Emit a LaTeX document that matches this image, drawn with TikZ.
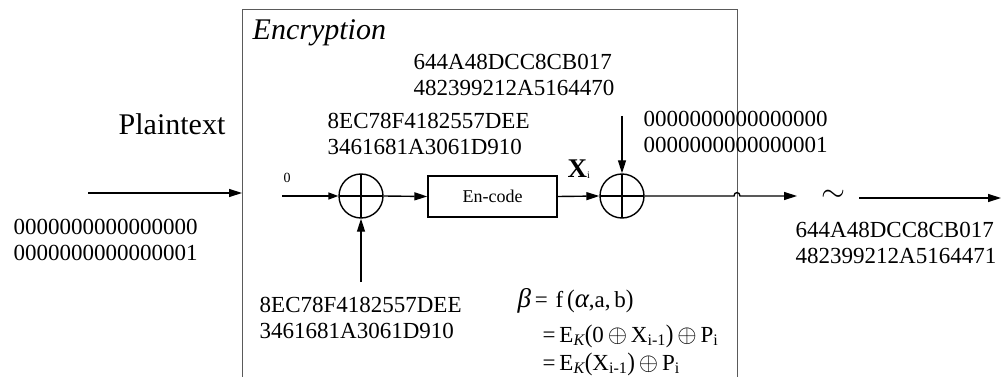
\documentclass[tikz,border=0pt]{standalone}
\usepackage{fontspec}
\setmainfont{Liberation Serif}
\usetikzlibrary{arrows.meta}
\definecolor{boxgray}{RGB}{90,90,90}
\newcommand{\bigpar}[1]{\raisebox{-0.5pt}{\scalebox{1}[1.1]{#1}}}
\begin{document}
\begin{tikzpicture}[x=1pt,y=-1pt,line width=1.4pt,
  conn/.style={-{Triangle[length=13pt,width=8pt]}},
  smallconn/.style={-{Triangle[length=10pt,width=7pt]}},
  xorc/.style={circle,draw,minimum size=44pt,inner sep=0pt,
    path picture={\draw (path picture bounding box.north) -- (path picture bounding box.south)
                        (path picture bounding box.west) -- (path picture bounding box.east);}},
  encbox/.style={draw,minimum width=129pt,minimum height=41pt,inner sep=0pt,
    font=\fontsize{18}{18}\selectfont},
  hex/.style={font=\fontsize{23}{26}\selectfont,align=left,inner sep=0pt,anchor=west},
  big/.style={font=\fontsize{30}{30}\selectfont,inner sep=0pt},
  frm/.style={font=\fontsize{23}{28}\selectfont,inner sep=0pt,anchor=base west}]
\useasboundingbox (0,0) rectangle (1002,377);
% frame of the encryption block
\draw[boxgray,line width=1pt] (242,377) -- (242,10) -- (737,10) -- (737,377);
% nodes
\node[xorc] (c1) at (361,196) {};
\node[xorc] (c2) at (622,196) {};
\node[encbox] (enc) at (492.5,196.5) {En-code};
% coordinates for free ends
\coordinate (inS) at (88,193);
\coordinate (inE) at (242,193);
\coordinate (zS) at (282,196);
\coordinate (bS) at (361,282);
\coordinate (tS) at (622,116);
\coordinate (hopA) at (734,196);
\coordinate (hopB) at (740,196);
\coordinate (oE) at (797,196);
\coordinate (fS) at (859,198);
\coordinate (fE) at (1001,198);
% connectors
\draw[conn] (inS) -- (inE);
\draw[smallconn] (zS) -- (c1.west);
\draw[conn] (c1.east) -- (enc.west);
\draw[conn] (enc.east) -- (c2.west);
\draw[conn] (bS) -- (c1.south);
\draw[conn] (tS) -- (c2.north);
\draw[conn] (c2.east) -- (hopA) .. controls +(0,-4.5) and +(0,-4.5) .. (hopB) -- (oE);
\draw[conn] (fS) -- (fE);
% texts
\node[big,anchor=base] (pt) at (172,135) {Plaintext};
\node[big,anchor=base west,font=\fontsize{30}{30}\selectfont\itshape] (encl) at (252,40) {Encryption};
\node[hex] (h1) at (413,74.5) {644A48DCC8CB017\\482399212A5164470};
\node[hex] (h2) at (327,134) {8EC78F4182557DEE\\3461681A3061D910};
\node[hex] (h3) at (643,132) {0000000000000000\\0000000000000001};
\node[hex] (h4) at (13,239.5) {0000000000000000\\0000000000000001};
\node[hex] (h5) at (259,317.5) {8EC78F4182557DEE\\3461681A3061D910};
\node[hex] (h6) at (795,243) {644A48DCC8CB017\\482399212A5164471};
\node[font=\fontsize{14}{14}\selectfont,inner sep=0pt] (zero) at (287,178) {0};
\node[anchor=base west,inner sep=0pt,font=\fontsize{27}{27}\selectfont] (xi) at (567,178)
  {\textbf{X}\raisebox{-1pt}{\fontsize{10}{10}\selectfont i}};
\node[inner sep=0pt] (tl) at (833.5,196) {\resizebox{24pt}{!}{$\sim$}};
% formula
\node[frm] (fm) at (517,307) {\begin{tabular}[t]{@{}l@{}}
{\fontsize{27}{27}\selectfont\itshape β}\,=\,\,f\,\bigpar{(}{\fontsize{27}{27}\selectfont\itshape α},a,\,b\bigpar{)}\\[7pt]
\hspace*{25pt}=\,E\textsubscript{\itshape K}\bigpar{(}0\,$\oplus$\,X\textsubscript{i-1}\bigpar{)}\,$\oplus$\,P\textsubscript{i}\\
\hspace*{25pt}=\,E\textsubscript{\itshape K}\bigpar{(}X\textsubscript{i-1}\bigpar{)}\,$\oplus$\,P\textsubscript{i}
\end{tabular}};
\end{tikzpicture}
\end{document}
